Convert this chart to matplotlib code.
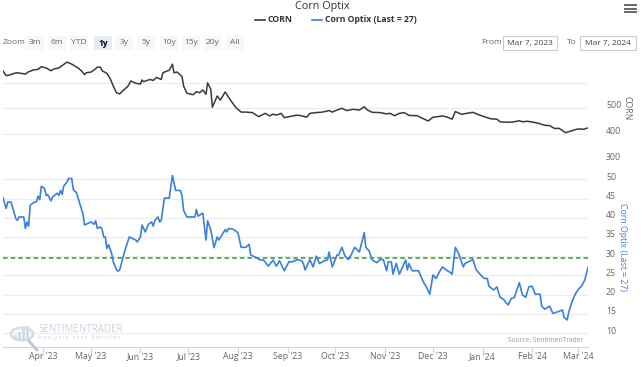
import matplotlib
matplotlib.use('Agg')
import matplotlib.pyplot as plt
import matplotlib.transforms as mtransforms
from matplotlib.lines import Line2D
from matplotlib.patches import Rectangle, Circle
import pandas as pd

plt.rcParams['font.family'] = ['Open Sans', 'DejaVu Sans']

# ---------------- data ----------------
corn_dates = [
    "2023-03-07", "2023-03-09", "2023-03-11", "2023-03-14", "2023-03-16", "2023-03-21", "2023-03-23",
    "2023-03-26", "2023-03-29", "2023-03-31", "2023-04-03", "2023-04-06", "2023-04-08", "2023-04-11",
    "2023-04-14", "2023-04-16", "2023-04-19", "2023-04-23", "2023-04-25", "2023-04-27", "2023-04-28",
    "2023-05-01", "2023-05-03", "2023-05-05", "2023-05-07", "2023-05-08", "2023-05-11", "2023-05-13",
    "2023-05-15", "2023-05-17", "2023-05-19", "2023-05-21", "2023-05-24", "2023-05-26", "2023-05-29",
    "2023-06-01", "2023-06-02", "2023-06-03", "2023-06-05", "2023-06-07", "2023-06-09", "2023-06-11",
    "2023-06-14", "2023-06-15", "2023-06-18", "2023-06-19", "2023-06-21", "2023-06-22", "2023-06-24",
    "2023-06-27", "2023-06-28", "2023-06-30", "2023-07-02", "2023-07-04", "2023-07-06", "2023-07-08",
    "2023-07-10", "2023-07-12", "2023-07-13", "2023-07-15", "2023-07-16", "2023-07-19", "2023-07-21",
    "2023-07-24", "2023-07-27", "2023-07-29", "2023-07-31", "2023-08-03", "2023-08-06", "2023-08-10",
    "2023-08-14", "2023-08-18", "2023-08-21", "2023-08-23", "2023-08-25", "2023-08-28", "2023-08-30",
    "2023-09-02", "2023-09-07", "2023-09-10", "2023-09-13", "2023-09-15", "2023-09-19", "2023-09-23",
    "2023-09-27", "2023-09-29", "2023-10-02", "2023-10-05", "2023-10-08", "2023-10-12", "2023-10-16",
    "2023-10-19", "2023-10-21", "2023-10-24", "2023-10-29", "2023-11-02", "2023-11-04", "2023-11-07",
    "2023-11-10", "2023-11-13", "2023-11-16", "2023-11-21", "2023-11-25", "2023-11-28", "2023-12-01",
    "2023-12-04", "2023-12-07", "2023-12-10", "2023-12-13", "2023-12-15", "2023-12-19", "2023-12-22",
    "2023-12-26", "2023-12-29", "2024-01-02", "2024-01-06", "2024-01-10", "2024-01-12", "2024-01-16",
    "2024-01-20", "2024-01-24", "2024-01-26", "2024-01-29", "2024-02-02", "2024-02-05", "2024-02-09",
    "2024-02-12", "2024-02-15", "2024-02-18", "2024-02-22", "2024-02-26", "2024-02-29", "2024-03-03",
    "2024-03-04", "2024-03-07",
]
corn_values = [
    645, 627, 629, 636, 638, 633, 642,
    649, 652, 662, 657, 646, 653, 657,
    671, 680, 672, 657, 646, 631, 638,
    641, 649, 660, 660, 646, 636, 616,
    586, 560, 555, 568, 584, 606, 597,
    594, 610, 603, 608, 612, 608, 620,
    612, 638, 646, 648, 672, 638, 641,
    623, 586, 558, 555, 552, 564, 560,
    571, 554, 599, 573, 503, 547, 531,
    563, 534, 516, 500, 484, 484, 482,
    466, 479, 469, 476, 472, 479, 462,
    466, 472, 469, 464, 479, 482, 484,
    490, 484, 492, 499, 490, 495, 492,
    505, 492, 483, 482, 477, 479, 470,
    479, 482, 471, 470, 458, 449, 464,
    466, 469, 464, 456, 486, 475, 479,
    483, 475, 466, 458, 456, 446, 444,
    445, 450, 446, 448, 444, 440, 432,
    431, 420, 420, 403, 411, 417, 418,
    416, 422,
]

optix_dates = [
    "2023-03-07", "2023-03-09", "2023-03-10", "2023-03-12", "2023-03-15", "2023-03-16", "2023-03-17",
    "2023-03-20", "2023-03-21", "2023-03-22", "2023-03-23", "2023-03-24", "2023-03-26", "2023-03-28",
    "2023-03-29", "2023-03-30", "2023-03-31", "2023-04-02", "2023-04-03", "2023-04-04", "2023-04-06",
    "2023-04-07", "2023-04-10", "2023-04-11", "2023-04-12", "2023-04-13", "2023-04-14", "2023-04-16",
    "2023-04-17", "2023-04-19", "2023-04-20", "2023-04-22", "2023-04-24", "2023-04-26", "2023-04-27",
    "2023-04-29", "2023-05-01", "2023-05-03", "2023-05-04", "2023-05-05", "2023-05-07", "2023-05-08",
    "2023-05-09", "2023-05-10", "2023-05-11", "2023-05-12", "2023-05-14", "2023-05-15", "2023-05-17",
    "2023-05-18", "2023-05-19", "2023-05-22", "2023-05-25", "2023-05-29", "2023-05-30", "2023-06-01",
    "2023-06-02", "2023-06-04", "2023-06-06", "2023-06-08", "2023-06-09", "2023-06-10", "2023-06-12",
    "2023-06-13", "2023-06-14", "2023-06-16", "2023-06-19", "2023-06-21", "2023-06-23", "2023-06-26",
    "2023-06-27", "2023-06-28", "2023-06-30", "2023-07-05", "2023-07-06", "2023-07-07", "2023-07-10",
    "2023-07-12", "2023-07-13", "2023-07-15", "2023-07-17", "2023-07-19", "2023-07-20", "2023-07-22",
    "2023-07-24", "2023-07-25", "2023-07-26", "2023-07-29", "2023-08-01", "2023-08-03", "2023-08-06",
    "2023-08-08", "2023-08-09", "2023-08-12", "2023-08-15", "2023-08-17", "2023-08-20", "2023-08-23",
    "2023-08-25", "2023-08-27", "2023-08-30", "2023-09-02", "2023-09-04", "2023-09-07", "2023-09-10",
    "2023-09-11", "2023-09-12", "2023-09-15", "2023-09-17", "2023-09-19", "2023-09-21", "2023-09-24",
    "2023-09-26", "2023-09-27", "2023-09-29", "2023-10-02", "2023-10-03", "2023-10-05", "2023-10-07",
    "2023-10-09", "2023-10-11", "2023-10-13", "2023-10-16", "2023-10-19", "2023-10-20", "2023-10-22",
    "2023-10-24", "2023-10-27", "2023-10-29", "2023-10-31", "2023-11-02", "2023-11-03", "2023-11-05",
    "2023-11-06", "2023-11-08", "2023-11-10", "2023-11-12", "2023-11-14", "2023-11-15", "2023-11-16",
    "2023-11-18", "2023-11-22", "2023-11-25", "2023-11-27", "2023-11-29", "2023-12-01", "2023-12-03",
    "2023-12-05", "2023-12-07", "2023-12-09", "2023-12-12", "2023-12-13", "2023-12-15", "2023-12-17",
    "2023-12-20", "2023-12-21", "2023-12-23", "2023-12-26", "2023-12-28", "2023-12-30", "2024-01-02",
    "2024-01-04", "2024-01-05", "2024-01-08", "2024-01-10", "2024-01-12", "2024-01-14", "2024-01-17",
    "2024-01-19", "2024-01-21", "2024-01-24", "2024-01-26", "2024-01-28", "2024-01-30", "2024-02-01",
    "2024-02-03", "2024-02-06", "2024-02-07", "2024-02-09", "2024-02-12", "2024-02-14", "2024-02-17",
    "2024-02-20", "2024-02-21", "2024-02-23", "2024-02-24", "2024-02-26", "2024-02-28", "2024-03-01",
    "2024-03-03", "2024-03-05", "2024-03-07",
]
optix_values = [
    45.2, 42.4, 44.1, 44.1, 39.8, 39.3, 40.2,
    40.2, 37.2, 38.9, 37.8, 43.2, 43.9, 44.2,
    45.6, 44.7, 48.2, 47.6, 45.8, 46.0, 44.4,
    45.4, 46.4, 45.8, 47.1, 46.1, 48.2, 49.3,
    50.2, 50.2, 47.3, 46.5, 43.7, 41.1, 38.1,
    38.5, 38.9, 38.3, 39.2, 37.2, 37.6, 37.0,
    35.0, 35.0, 32.0, 33.0, 30.7, 28.5, 26.5,
    26.1, 26.4, 31.1, 35.0, 34.2, 33.7, 35.0,
    38.1, 36.3, 38.3, 38.9, 37.8, 39.3, 40.2,
    38.9, 39.3, 45.1, 45.1, 51.0, 47.1, 47.1,
    45.8, 41.9, 40.2, 40.2, 42.1, 40.4, 41.2,
    34.2, 39.2, 36.8, 32.2, 35.0, 34.2, 35.5,
    36.9, 36.3, 37.2, 37.0, 36.1, 32.3, 32.3,
    33.1, 30.3, 29.7, 29.0, 29.0, 27.4, 29.0,
    27.4, 28.8, 26.2, 28.6, 28.5, 29.1, 28.8,
    28.0, 26.4, 29.1, 27.2, 30.0, 28.1, 28.8,
    29.0, 31.1, 27.2, 30.3, 30.3, 32.3, 30.0,
    29.1, 30.5, 32.3, 31.1, 36.1, 32.3, 31.4,
    29.0, 28.3, 29.1, 29.1, 26.2, 28.5, 28.5,
    25.3, 28.1, 25.3, 27.2, 29.0, 26.4, 28.1,
    26.2, 26.2, 23.3, 21.9, 20.1, 25.1, 24.2,
    25.9, 27.2, 26.5, 25.7, 25.3, 32.3, 30.7,
    27.2, 28.1, 28.5, 29.1, 26.5, 25.5, 24.2,
    24.2, 22.2, 21.2, 22.0, 19.3, 18.8, 17.3,
    19.0, 19.3, 23.1, 19.9, 19.3, 22.0, 22.2,
    20.1, 20.1, 17.0, 16.2, 17.0, 15.1, 15.5,
    16.0, 14.1, 13.4, 15.5, 18.1, 20.1, 21.4,
    22.2, 23.8, 27.1,
]

optix_threshold = 29.5
corn_ticks = [300, 400, 500, 600]
corn_tick_labels = ["300", "400", "500", ""]
optix_ticks = [10, 15, 20, 25, 30, 35, 40, 45, 50]
month_ticks = ["2023-04-01", "2023-05-01", "2023-06-01", "2023-07-01", "2023-08-01", "2023-09-01",
               "2023-10-01", "2023-11-01", "2023-12-01", "2024-01-01", "2024-02-01", "2024-03-01"]
month_labels = ["Apr '23", "May '23", "Jun '23", "Jul '23", "Aug '23", "Sep '23",
                "Oct '23", "Nov '23", "Dec '23", "Jan '24", "Feb '24", "Mar '24"]
range_buttons = ["3m", "6m", "YTD", "1y", "3y", "5y", "10y", "15y", "20y", "All"]
selected_button = "1y"

# ---------------- style ----------------
W, H = 643, 367
CORN_COLOR = '#3a3a3a'
OPTIX_COLOR = '#3a80dc'
GRID = '#ececec'
AXIS = '#ccd6eb'
LABEL = '#666666'


def fx(x):
    return x / W


def fy(y):
    return 1 - y / H


fig = plt.figure(figsize=(W / 100, H / 100), dpi=100)
fig.patch.set_facecolor('white')

xmin, xmax = pd.Timestamp("2023-03-07"), pd.Timestamp("2024-03-07")
lift = mtransforms.ScaledTranslation(0, 3 / 100, fig.dpi_scale_trans)

# top pane: CORN
ax1 = fig.add_axes([fx(3), fy(159), fx(585), 102 / H])
ax1.plot(pd.to_datetime(corn_dates), corn_values, color=CORN_COLOR, lw=1.1, zorder=3)
ax1.set_xlim(xmin, xmax)
ax1.set_ylim(300, 700)
ax1.set_yticks(corn_ticks)
ax1.set_yticklabels(corn_tick_labels)
ax1.yaxis.tick_right()
ax1.tick_params(axis='y', length=0, pad=13, labelsize=6.3, labelcolor=LABEL)
ax1.set_xticks([])
ax1.grid(axis='y', color=GRID, lw=0.8)
for s in ax1.spines.values():
    s.set_visible(False)

# bottom pane: Optix
ax2 = fig.add_axes([fx(3), fy(347), fx(585), 175 / H])
ax2.plot(pd.to_datetime(optix_dates), optix_values, color=OPTIX_COLOR, lw=1.2, zorder=3)
ax2.axhline(optix_threshold, color='#2f9a2f', lw=1.1, ls=(0, (3, 2)), zorder=2)
ax2.set_xlim(xmin, xmax)
ax2.set_ylim(10 - 14 * 5 / 19.25, 50 + 7.3 * 5 / 19.25)
ax2.set_yticks(optix_ticks)
ax2.yaxis.tick_right()
ax2.tick_params(axis='y', length=0, pad=13, labelsize=6.3, labelcolor=LABEL)
ax2.set_xticks(pd.to_datetime(month_ticks))
ax2.set_xticklabels(month_labels)
ax2.tick_params(axis='x', length=4.5, width=0.8, color=AXIS, labelsize=6.3,
                labelcolor=LABEL, pad=-1.0)
ax2.grid(axis='y', color=GRID, lw=0.8)
for k, s in ax2.spines.items():
    s.set_visible(k == 'bottom')
ax2.spines['bottom'].set_color(AXIS)
ax2.spines['bottom'].set_linewidth(0.8)

for ax in (ax1, ax2):
    for lbl in ax.get_yticklabels():
        lbl.set_transform(lbl.get_transform() + lift)

# axis titles
fig.text(fx(627), fy(108), "CORN", rotation=270, ha='center', va='center',
         fontsize=6.3, color=LABEL)
fig.text(fx(623), fy(247), "Corn Optix (Last = 27)", rotation=270, ha='center', va='center',
         fontsize=6.3, color=OPTIX_COLOR)

# title + legend
fig.text(fx(322), fy(6), "Corn Optix", ha='center', va='center', fontsize=7.8, color='#333333')
fig.add_artist(Line2D([fx(255), fx(265)], [fy(20), fy(20)], color=CORN_COLOR, lw=1.2))
fig.text(fx(268), fy(20), "CORN", ha='left', va='center', fontsize=6.2,
         fontweight='bold', color='#333333')
fig.add_artist(Line2D([fx(312), fx(322)], [fy(20), fy(20)], color=OPTIX_COLOR, lw=1.2))
fig.text(fx(325), fy(20), "Corn Optix (Last = 27)", ha='left', va='center', fontsize=6.2,
         fontweight='bold', color='#333333')

# hamburger menu
for yy in (5, 8.5, 12):
    fig.add_artist(Line2D([fx(625), fx(636)], [fy(yy), fy(yy)], color='#666666', lw=1.4))

# range selector
fig.text(fx(3), fy(43), "Zoom", ha='left', va='center', fontsize=6, color=LABEL)
btn_centers = [35, 57, 79, 103, 124, 146, 169, 191, 213, 235]
for lab, cx in zip(range_buttons, btn_centers):
    sel = lab == selected_button
    fig.add_artist(Rectangle((fx(cx - 9), fy(50)), 18 / W, 14 / H,
                             facecolor='#e6ebf5' if sel else '#f7f7f7', edgecolor='none'))
    fig.text(fx(cx), fy(43), lab, ha='center', va='center', fontsize=6,
             color='#000000' if sel else LABEL, fontweight='bold' if sel else 'normal')

fig.text(fx(481), fy(43), "From", ha='left', va='center', fontsize=6, color=LABEL)
fig.add_artist(Rectangle((fx(503), fy(50)), 54 / W, 14 / H, facecolor='white',
                         edgecolor='#cccccc', lw=0.8))
fig.text(fx(530), fy(43), "Mar 7, 2023", ha='center', va='center', fontsize=6, color='#444444')
fig.text(fx(567), fy(43), "To", ha='left', va='center', fontsize=6, color=LABEL)
fig.add_artist(Rectangle((fx(580), fy(50)), 56 / W, 14 / H, facecolor='white',
                         edgecolor='#cccccc', lw=0.8))
fig.text(fx(608), fy(43), "Mar 7, 2024", ha='center', va='center', fontsize=6, color='#444444')

# watermark
wm = '#c8d4e2'
fig.add_artist(Circle((fx(22), fy(334)), 11 / W, transform=fig.transFigure,
                      facecolor='none', edgecolor='#d6dde5', lw=2.0))
for i, hgt in enumerate([5, 8, 11, 14]):
    fig.add_artist(Rectangle((fx(14 + i * 4), fy(340)), 3 / W, hgt / H,
                             facecolor='#d2dbe5', edgecolor='none'))
fig.add_artist(Line2D([fx(29), fx(37)], [fy(341), fy(350)], color='#b9c6d4', lw=2.0))
fig.text(fx(38), fy(329.5), "SENTIMENTRADER", ha='left', va='center', fontsize=7.0,
         color=wm)
fig.text(fx(38), fy(337.5), "A n a l y s i s   o v e r   E m o t i o n", ha='left', va='center',
         fontsize=3.9, color=wm)

# source
fig.text(fx(583), fy(340), "Source: SentimenTrader", ha='right', va='center', fontsize=4.8,
         color='#999999')

fig.savefig('out.png', dpi=100, facecolor='white')
